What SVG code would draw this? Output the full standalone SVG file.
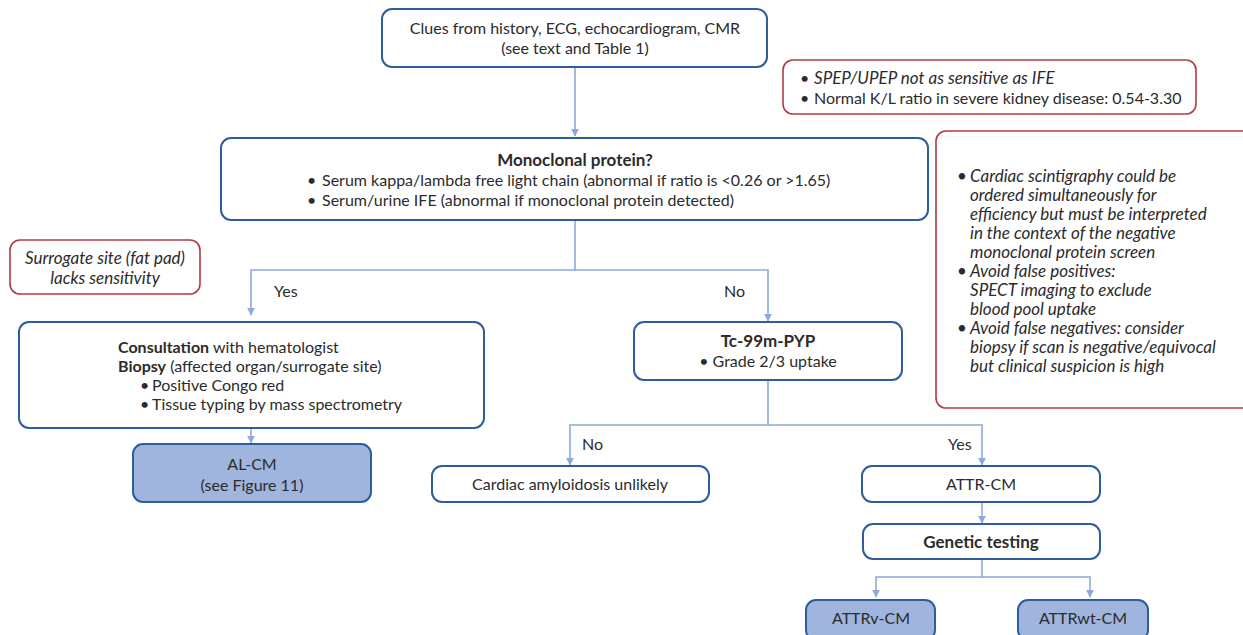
<svg xmlns="http://www.w3.org/2000/svg" width="1243" height="635" viewBox="0 0 1243 635">
<style>
text{font-family:Lato,"Open Sans","Noto Sans",sans-serif;font-size:16px;fill:#2b2b2b}
.b{font-weight:bold}
.bt{font-weight:bold;font-size:17px}
.i{font-style:italic;font-size:17px}
.c{text-anchor:middle}
.node{fill:#fff;stroke:#2d5c9f;stroke-width:2}
.fill{fill:#9fb5dd;stroke:#2d5c9f;stroke-width:2}
.note{fill:#fff;stroke:#b23a45;stroke-width:1.6}
.con{fill:none;stroke:#8ea9dc;stroke-width:1.6}
</style>
<defs>
<marker id="ah" viewBox="0 0 10 10" refX="9" refY="5" markerWidth="8" markerHeight="8" markerUnits="userSpaceOnUse" orient="auto">
<path d="M0,0 L10,5 L0,10 z" fill="#8ea9dc"/>
</marker>
</defs>
<rect width="1243" height="635" fill="#fff"/>

<g id="connectors">
<path class="con" d="M575,67 V136" marker-end="url(#ah)"/>
<path class="con" d="M575,220 V270 H251 V315" marker-end="url(#ah)"/>
<path class="con" d="M575,270 H768 V321" marker-end="url(#ah)"/>
<path class="con" d="M251,428 V443" marker-end="url(#ah)"/>
<path class="con" d="M768,380 V425 H570 V465" marker-end="url(#ah)"/>
<path class="con" d="M768,425 H982 V465" marker-end="url(#ah)"/>
<path class="con" d="M982,502 V523" marker-end="url(#ah)"/>
<path class="con" d="M982,559 V577 H876 V597" marker-end="url(#ah)"/>
<path class="con" d="M982,577 H1090 V597" marker-end="url(#ah)"/>
<text x="274" y="297">Yes</text>
<text x="724" y="297">No</text>
<text x="582" y="450">No</text>
<text x="948" y="450">Yes</text>
</g>

<g id="clues">
<rect class="node" x="382" y="9" width="385" height="58" rx="10"/>
<text class="c" x="575" y="34">Clues from history, ECG, echocardiogram, CMR</text>
<text class="c" x="575" y="54">(see text and Table 1)</text>
</g>

<g id="note-spep">
<rect class="note" x="783" y="60" width="413" height="54" rx="10"/>
<text x="800" y="84"><tspan>•</tspan><tspan class="i" x="814">SPEP/UPEP not as sensitive as IFE</tspan></text>
<text x="800" y="104"><tspan>•</tspan><tspan x="814">Normal K/L ratio in severe kidney disease: 0.54-3.30</tspan></text>
</g>

<g id="monoclonal">
<rect class="node" x="221" y="138" width="707" height="82" rx="10"/>
<text class="c bt" x="575" y="166">Monoclonal protein?</text>
<text x="307" y="186"><tspan>•</tspan><tspan x="322">Serum kappa/lambda free light chain (abnormal if ratio is &lt;0.26 or &gt;1.65)</tspan></text>
<text x="307" y="206"><tspan>•</tspan><tspan x="322">Serum/urine IFE (abnormal if monoclonal protein detected)</tspan></text>
</g>

<g id="note-scint">
<rect class="note" x="936" y="131" width="320" height="277" rx="10"/>
<text x="957" y="182" class="i">•</text>
<text x="970" y="182" class="i">Cardiac scintigraphy could be</text>
<text x="970" y="201" class="i">ordered simultaneously for</text>
<text x="970" y="220" class="i">efficiency but must be interpreted</text>
<text x="970" y="239" class="i">in the context of the negative</text>
<text x="970" y="258" class="i">monoclonal protein screen</text>
<text x="957" y="277" class="i">•</text>
<text x="970" y="277" class="i">Avoid false positives:</text>
<text x="970" y="296" class="i">SPECT imaging to exclude</text>
<text x="970" y="315" class="i">blood pool uptake</text>
<text x="957" y="334" class="i">•</text>
<text x="970" y="334" class="i">Avoid false negatives: consider</text>
<text x="970" y="353" class="i">biopsy if scan is negative/equivocal</text>
<text x="970" y="372" class="i">but clinical suspicion is high</text>
</g>

<g id="note-surrogate">
<rect class="note" x="10" y="240" width="190" height="54" rx="10"/>
<text class="c i" x="105" y="264">Surrogate site (fat pad)</text>
<text class="c i" x="105" y="284">lacks sensitivity</text>
</g>

<g id="consultation">
<rect class="node" x="19" y="322" width="465" height="106" rx="10"/>
<text x="118" y="353"><tspan class="b">Consultation</tspan> with hematologist</text>
<text x="118" y="372"><tspan class="b">Biopsy</tspan> (affected organ/surrogate site)</text>
<text x="140" y="391"><tspan>•</tspan><tspan x="152">Positive Congo red</tspan></text>
<text x="140" y="410"><tspan>•</tspan><tspan x="152">Tissue typing by mass spectrometry</tspan></text>
</g>

<g id="alcm">
<rect class="fill" x="133" y="444" width="238" height="58" rx="10"/>
<text class="c" x="252" y="470">AL-CM</text>
<text class="c" x="252" y="491">(see Figure 11)</text>
</g>

<g id="tcpyp">
<rect class="node" x="634" y="322" width="268" height="58" rx="10"/>
<text class="c bt" x="768" y="347">Tc-99m-PYP</text>
<text class="c" x="768" y="367">• Grade 2/3 uptake</text>
</g>

<g id="unlikely">
<rect class="node" x="432" y="466" width="277" height="36" rx="10"/>
<text class="c" x="570" y="490">Cardiac amyloidosis unlikely</text>
</g>

<g id="attrcm">
<rect class="node" x="862" y="466" width="238" height="36" rx="10"/>
<text class="c" x="981" y="490">ATTR-CM</text>
</g>

<g id="genetic">
<rect class="node" x="863" y="524" width="237" height="35" rx="10"/>
<text class="c bt" x="981" y="548">Genetic testing</text>
</g>

<g id="attrv">
<rect class="fill" x="806" y="600" width="129" height="40" rx="10"/>
<text class="c" x="871" y="624">ATTRv-CM</text>
</g>

<g id="attrwt">
<rect class="fill" x="1018" y="600" width="130" height="40" rx="10"/>
<text class="c" x="1083" y="624">ATTRwt-CM</text>
</g>
</svg>
